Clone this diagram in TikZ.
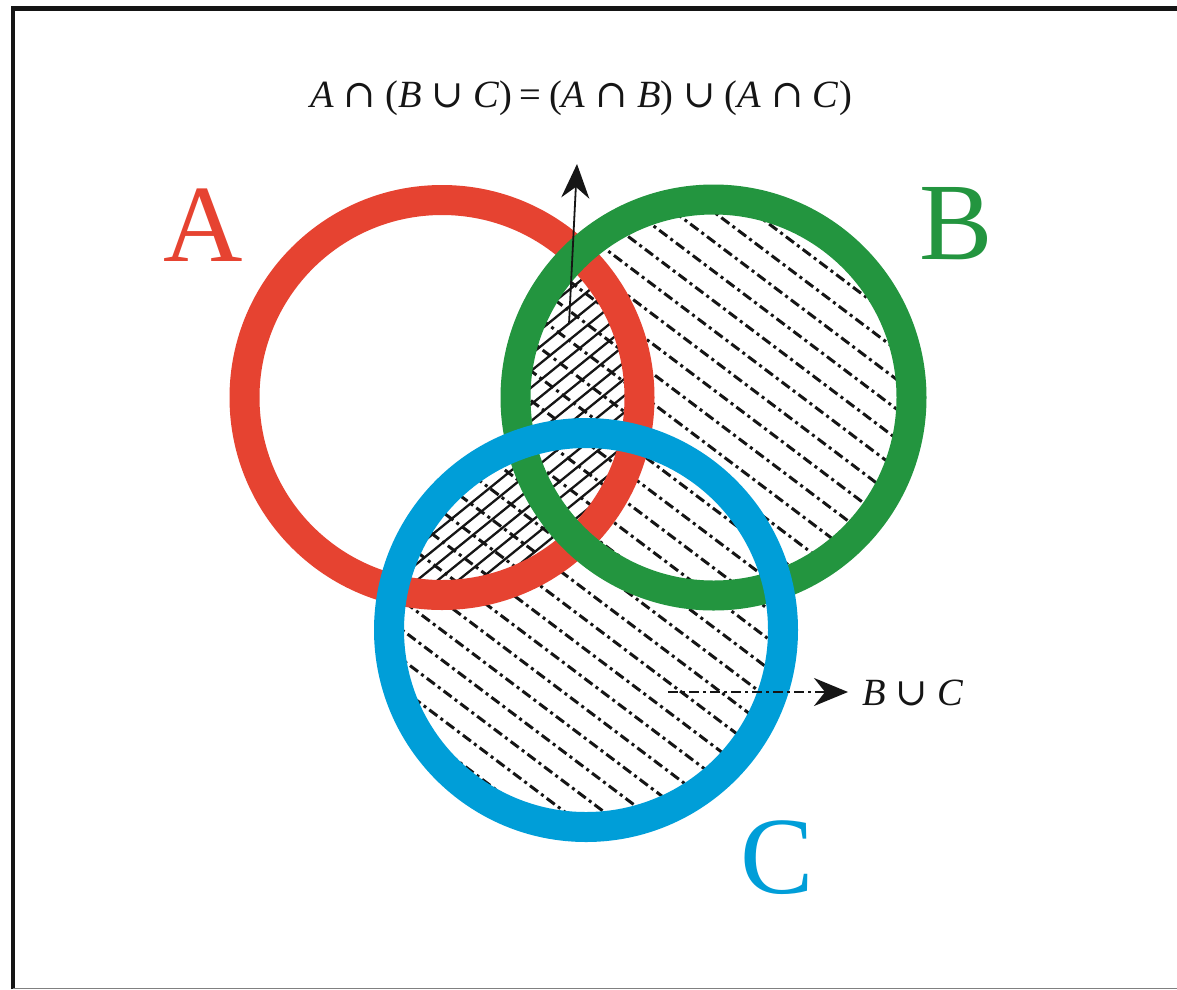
\documentclass[tikz,border=0pt]{standalone}
\usepackage{fontspec}
\setmainfont{Liberation Serif}
\newfontfamily\symf{DejaVu Serif}
\usetikzlibrary{arrows.meta,calc}
\definecolor{cA}{HTML}{E64331}
\definecolor{cB}{HTML}{23953F}
\definecolor{cC}{HTML}{009ED8}
\definecolor{ink}{HTML}{151515}
\newcommand{\capop}{\hspace{0.25em}{\symf ∩}\hspace{0.25em}}
\newcommand{\cupop}{\hspace{0.25em}{\symf ∪}\hspace{0.25em}}
\newcommand{\eqop}{\hspace{0.2em}=\hspace{0.2em}}
\begin{document}
\begin{tikzpicture}[x=1pt,y=-1pt,
  ring/.style={line width=30pt},
  dashhatch/.style={ink, line width=3pt, dash pattern=on 10pt off 4pt on 3pt off 4pt},
  solidhatch/.style={ink, line width=2.3pt},
  bigletter/.style={font=\fontsize{110}{110}\selectfont, inner sep=0pt},
  formula/.style={font=\fontsize{38.5}{42}\selectfont, inner sep=0pt, text=ink},
  tip/.style={-{Stealth[length=34pt,width=28pt]}}]
\useasboundingbox (0,0) rectangle (1177,989);
\fill[white] (0,0) rectangle (1177,989);
% frame
\draw[line width=4.5pt, ink] (13,989) -- (13,8.5) -- (1177,8.5);
\draw[line width=1pt, gray] (13,988) -- (1177,988);
% centres
\coordinate (ca) at (442,397.5);
\coordinate (cb) at (713.5,397.5);
\coordinate (cc) at (586,630);
% dash-dot hatching of B union C
\begin{scope}
  \clip (cb) circle[radius=190] (cc) circle[radius=190];
  \begin{scope}[shift={(650,520)}, rotate=-37]
    \foreach \k in {-22,...,22} \draw[dashhatch] (-650,\k*23.7) -- (650,\k*23.7);
  \end{scope}
\end{scope}
% solid hatching of A intersect (B union C)
\begin{scope}
  \clip (ca) circle[radius=186];
  \clip (cb) circle[radius=190] (cc) circle[radius=190];
  \begin{scope}[shift={(520,430)}, rotate=39]
    \foreach \k in {-25,...,25} \draw[solidhatch] (-450,\k*13) -- (450,\k*13);
  \end{scope}
\end{scope}
% rings
\draw[ring, cA] (ca) circle[radius=197.5];
\draw[ring, cB] (cb) circle[radius=198];
\draw[ring, cC] (cc) circle[radius=197];
% labels
\node[bigletter, text=cA] (la) at (203,225) {A};
\node[bigletter, text=cB] (lb) at (956,224) {B};
\node[bigletter, text=cC] (lc) at (777,858) {C};
\node[formula, anchor=base] (eq) at (581,107)
  {\textit{A}\capop(\textit{B}\cupop\textit{C})\eqop(\textit{A}\capop\textit{B})\cupop(\textit{A}\capop\textit{C})};
\node[formula, anchor=base west, inner xsep=14pt] (bc) at (848,705) {\textit{B}\cupop\textit{C}};
% arrows
\coordinate (upstart) at (569,324);
\coordinate (uptip) at (577,164);
\draw[ink, line width=1.8pt, tip] (upstart) -- (uptip);
\coordinate (bcstart) at (668,692);
\draw[ink, line width=2.4pt, dash pattern=on 10pt off 4pt on 3pt off 4pt, tip] (bcstart) -- (bcstart -| bc.west);
\end{tikzpicture}
\end{document}
